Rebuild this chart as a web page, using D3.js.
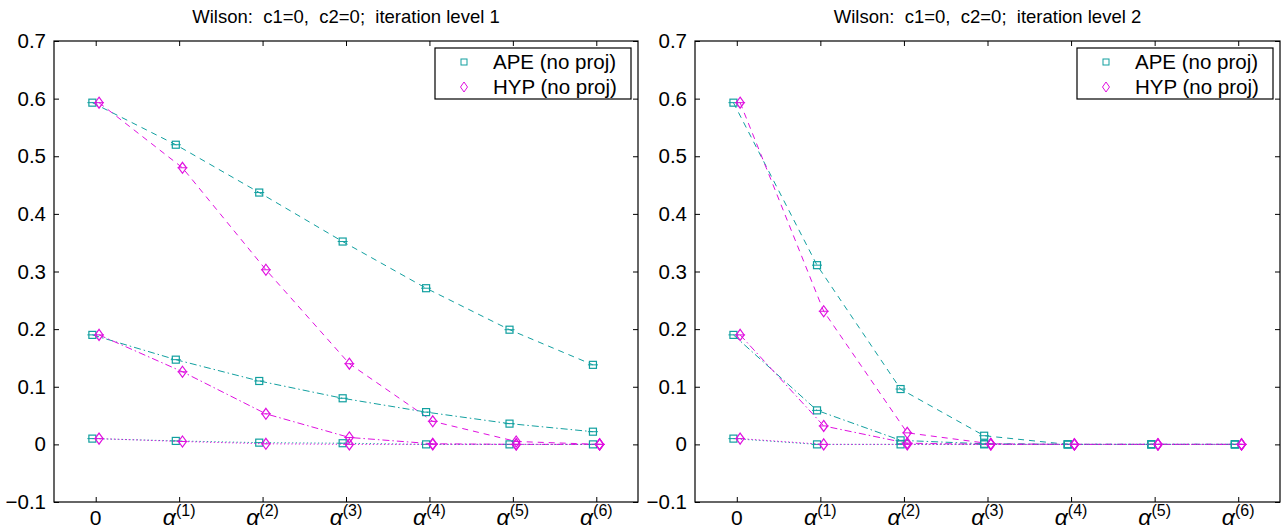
<!DOCTYPE html>
<html>
<head>
<meta charset="utf-8">
<script src="https://cdn.jsdelivr.net/npm/d3@7"></script>
<style>
  body { margin: 0; background: #fff; }
  text { font-family: "Liberation Sans", Arial, sans-serif; }
</style>
</head>
<body>
<svg id="chart" width="1286" height="529"></svg>
<script>
// tick labels
const xTickLabels = ["0", "1", "2", "3", "4", "5", "6"];   // 0, then alpha^(n)
const yTicks = [-0.1, 0, 0.1, 0.2, 0.3, 0.4, 0.5, 0.6, 0.7];
const methods = ["APE (no proj)", "HYP (no proj)"];

// iteration level 1
const lvl1ApeDash    = [0.593, 0.520, 0.437, 0.352, 0.271, 0.199, 0.138];
const lvl1HypDash    = [0.593, 0.480, 0.303, 0.140, 0.040, 0.005, 0.000];
const lvl1ApeDashDot = [0.190, 0.147, 0.110, 0.080, 0.056, 0.036, 0.022];
const lvl1HypDashDot = [0.190, 0.126, 0.053, 0.012, 0.001, 0.000, 0.000];
const lvl1ApeDot     = [0.010, 0.006, 0.003, 0.002, 0.000, 0.000, 0.000];
const lvl1HypDot     = [0.010, 0.005, 0.001, 0.000, 0.000, 0.000, 0.000];

// iteration level 2
const lvl2ApeDash    = [0.593, 0.311, 0.096, 0.015, 0.000, 0.000, 0.000];
const lvl2HypDash    = [0.593, 0.231, 0.020, 0.001, 0.000, 0.000, 0.000];
const lvl2ApeDashDot = [0.190, 0.059, 0.007, 0.001, 0.000, 0.000, 0.000];
const lvl2HypDashDot = [0.190, 0.032, 0.002, 0.000, 0.000, 0.000, 0.000];
const lvl2ApeDot     = [0.010, 0.000, 0.000, 0.000, 0.000, 0.000, 0.000];
const lvl2HypDot     = [0.010, 0.000, 0.000, 0.000, 0.000, 0.000, 0.000];

const colors = { APE: "#12a0a0", HYP: "#e010e0" };
const dashes = { dash: "6,5", dashdot: "7,3,1.5,3", dot: "1.2,2.5" };
const offset = { APE: -0.04, HYP: 0.04 };   // markers sit a little to either side

const svg = d3.select("#chart");

function drawPanel(left, right, title, series) {
    const top = 41, bottom = 502;

    const x = d3.scaleLinear().domain([-0.5, 6.5]).range([left, right]);
    const y = d3.scaleLinear().domain([-0.1, 0.7]).range([bottom, top]);

    const g = svg.append("g");

    // title, keep the double spaces
    g.append("text")
        .attr("x", (left + right) / 2)
        .attr("y", 23)
        .attr("text-anchor", "middle")
        .attr("font-size", 18.5)
        .style("white-space", "pre")
        .text(title);

    // axes with inward ticks on all four sides
    const xIdx = d3.range(xTickLabels.length);
    g.append("g")
        .attr("transform", `translate(0,${bottom})`)
        .call(d3.axisBottom(x).tickValues(xIdx).tickSizeInner(-5).tickSizeOuter(0).tickFormat(""));
    g.append("g")
        .attr("transform", `translate(0,${top})`)
        .call(d3.axisTop(x).tickValues(xIdx).tickSizeInner(-5).tickSizeOuter(0).tickFormat(""));
    g.append("g")
        .attr("class", "yaxis")
        .attr("transform", `translate(${left},0)`)
        .call(d3.axisLeft(y).tickValues(yTicks).tickSizeInner(-5).tickSizeOuter(0).tickPadding(8)
            .tickFormat(d => d === 0 ? "0" : d3.format(".1f")(d)));
    g.append("g")
        .attr("transform", `translate(${right},0)`)
        .call(d3.axisRight(y).tickValues(yTicks).tickSizeInner(-5).tickSizeOuter(0).tickFormat(""));

    g.selectAll(".domain").remove();
    g.selectAll(".tick line").attr("stroke", "#000");
    g.selectAll(".yaxis text")
        .attr("font-size", 20.5)
        .attr("font-family", "Liberation Sans, Arial, sans-serif")
        .attr("fill", "#000");

    g.append("rect")
        .attr("x", left).attr("y", top)
        .attr("width", right - left).attr("height", bottom - top)
        .attr("fill", "none").attr("stroke", "#000").attr("stroke-width", 1.2);

    // x tick labels: 0, alpha^(1) ... alpha^(6)
    xIdx.forEach(i => {
        const t = g.append("text")
            .attr("x", x(i))
            .attr("y", 525)
            .attr("text-anchor", "middle")
            .attr("font-family", "Liberation Serif, serif")
            .attr("font-size", 21);
        if (i === 0) {
            t.text("0");
        } else {
            t.append("tspan").attr("font-style", "italic").attr("font-size", 23).text("α");
            t.append("tspan").attr("font-size", 16).attr("dy", -9).text("(" + xTickLabels[i] + ")");
        }
    });

    // series
    const line = d3.line()
        .x(d => d.xv)
        .y(d => y(d.v));

    series.forEach(s => {
        const pts = s.values.map((v, i) => ({ xv: x(i + offset[s.method]), v: v }));
        const col = colors[s.method];

        g.append("path")
            .datum(pts)
            .attr("d", line)
            .attr("fill", "none")
            .attr("stroke", col)
            .attr("stroke-width", 1)
            .attr("stroke-dasharray", dashes[s.style]);

        const m = g.append("g").selectAll("g")
            .data(pts).enter().append("g")
            .attr("transform", d => `translate(${d.xv},${y(d.v)})`);

        // tiny error bar caps
        m.append("line")
            .attr("x1", -5).attr("x2", 5)
            .attr("stroke", col).attr("stroke-width", 1);

        if (s.method === "APE") {
            m.append("rect")
                .attr("x", -3.5).attr("y", -3.5)
                .attr("width", 7).attr("height", 7)
                .attr("fill", "none").attr("stroke", col).attr("stroke-width", 1.2);
        } else {
            m.append("path")
                .attr("d", "M0,-5.5L4,0L0,5.5L-4,0Z")
                .attr("fill", "none").attr("stroke", col).attr("stroke-width", 1.2);
        }
    });

    // legend
    const lx = right - 203, ly = 48;
    const lg = g.append("g");
    lg.append("rect")
        .attr("x", lx).attr("y", ly)
        .attr("width", 196).attr("height", 51)
        .attr("fill", "#fff").attr("stroke", "#000").attr("stroke-width", 1.2);
    methods.forEach((name, i) => {
        const key = name.slice(0, 3);
        const cy = ly + 14 + i * 25;
        if (key === "APE") {
            lg.append("rect")
                .attr("x", lx + 29 - 3).attr("y", cy - 3)
                .attr("width", 6).attr("height", 6)
                .attr("fill", "none").attr("stroke", colors[key]).attr("stroke-width", 1);
        } else {
            lg.append("path")
                .attr("transform", `translate(${lx + 29},${cy})`)
                .attr("d", "M0,-5L3.5,0L0,5L-3.5,0Z")
                .attr("fill", "none").attr("stroke", colors[key]).attr("stroke-width", 1);
        }
        lg.append("text")
            .attr("x", lx + 58)
            .attr("y", cy + 7)
            .attr("font-size", 20.5)
            .text(name);
    });
}

drawPanel(54, 638, "Wilson:  c1=0,  c2=0;  iteration level 1", [
    { method: "APE", style: "dash", values: lvl1ApeDash },
    { method: "HYP", style: "dash", values: lvl1HypDash },
    { method: "APE", style: "dashdot", values: lvl1ApeDashDot },
    { method: "HYP", style: "dashdot", values: lvl1HypDashDot },
    { method: "APE", style: "dot", values: lvl1ApeDot },
    { method: "HYP", style: "dot", values: lvl1HypDot }
]);

drawPanel(695, 1280, "Wilson:  c1=0,  c2=0;  iteration level 2", [
    { method: "APE", style: "dash", values: lvl2ApeDash },
    { method: "HYP", style: "dash", values: lvl2HypDash },
    { method: "APE", style: "dashdot", values: lvl2ApeDashDot },
    { method: "HYP", style: "dashdot", values: lvl2HypDashDot },
    { method: "APE", style: "dot", values: lvl2ApeDot },
    { method: "HYP", style: "dot", values: lvl2HypDot }
]);
</script>
</body>
</html>
